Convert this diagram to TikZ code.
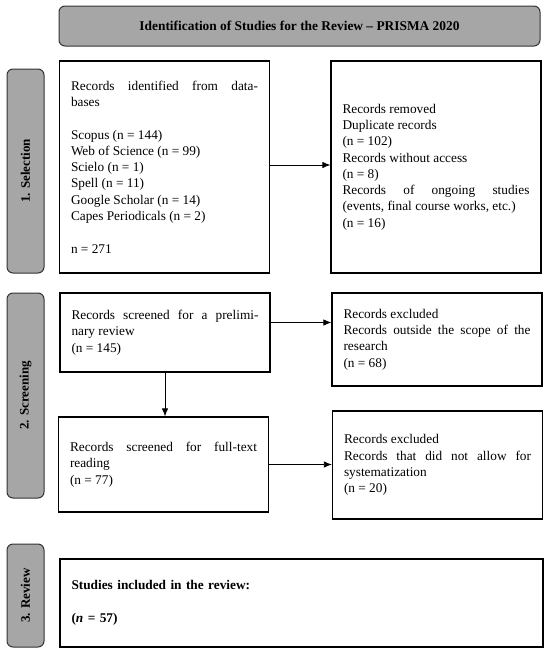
\documentclass[tikz,border=0pt]{standalone}
\usepackage{fontspec}
\setmainfont{Liberation Serif}
\usetikzlibrary{arrows.meta}

\definecolor{stagegray}{HTML}{A6A6A6}

\tikzset{
  stage/.style={draw=black!80, fill=stagegray, rounded corners=6pt, line width=1pt,
    rotate=90, inner sep=0pt, minimum height=37pt,
    font=\bfseries\fontsize{13}{14}\selectfont},
  recbox/.style={draw, line width=1.3pt, text width=187pt, inner xsep=11.5pt,
    inner ysep=0pt, align=justify, font=\fontsize{13.3}{16.3}\selectfont},
  arr/.style={-{Latex[length=8pt,width=6.5pt]}, line width=0.8pt}
}

\begin{document}
\begin{tikzpicture}[x=1pt, y=-1pt]

\useasboundingbox (0,0) rectangle (550,651);

%%%%%%%%%%%%%%%%%%%%%%%%%%%%%%%
\node[draw=black!80, fill=stagegray, rounded corners=6pt, line width=1pt,
  minimum width=481pt, minimum height=40pt,
  font=\bfseries\fontsize{13.4}{14}\selectfont] (title) at (299.5,26)
  {Identification of Studies for the Review -- PRISMA 2020};

%%%%%%%%%%%%%%%%%%%%%%%%%%%%%%%
\node[stage, minimum width=204pt] (selection) at (25.5,171) {1. Selection};
\node[stage, minimum width=205pt] (screening) at (25.5,395.5) {2. Screening};
\node[stage, minimum width=103pt] (review) at (25.5,595.5) {3. Review};

%%%%%%%%%%%%%%%%%%%%%%%%%%%%%%%
\node[recbox, minimum height=212pt] (ident) at (164.5,167)
{Records identified from data-\linebreak bases\\[16.3pt]
Scopus (n = 144)\\
Web of Science (n = 99)\\
Scielo (n = 1)\\
Spell (n = 11)\\
Google Scholar (n = 14)\\
Capes Periodicals (n = 2)\\[16.3pt]
n = 271};

\node[recbox, minimum height=212pt] (removed) at (436,167)
{Records removed\\
Duplicate records\\
(n = 102)\\
Records without access\\
(n = 8)\\
Records of ongoing studies\linebreak (events, final course works, etc.)\\
(n = 16)};

\node[recbox, minimum height=79pt] (prelim) at (165,332.5)
{Records screened for a prelimi-\linebreak nary review\\
(n = 145)};

\node[recbox, minimum height=93pt] (excl1) at (437,339.5)
{Records excluded\\
Records outside the scope of the\linebreak research\\
(n = 68)};

\node[recbox, minimum height=95pt] (fulltext) at (163.5,464.5)
{Records screened for full-text\linebreak reading\\
(n = 77)};

\node[recbox, minimum height=108pt] (excl2) at (437.5,465)
{Records excluded\\
Records that did not allow for\linebreak systematization\\
(n = 20)};

\node[recbox, text width=460pt, align=left, minimum height=88pt,
  font=\bfseries\fontsize{13.3}{16.3}\selectfont] (included) at (301.5,603)
{Studies included in the review:\\[16.3pt]
(\textit{n} = 57)};

%%%%%%%%%%%%%%%%%%%%%%%%%%%%%%%
\draw[arr] ([yshift=2pt]ident.east) -- ([yshift=2pt]ident.east -| removed.west);
\draw[arr] ([yshift=10pt]prelim.east) -- ([yshift=10pt]prelim.east -| excl1.west);
\draw[arr] (prelim.south) -- (prelim.south |- fulltext.north);
\draw[arr] (fulltext.east) -- (fulltext.east -| excl2.west);

\end{tikzpicture}
\end{document}
